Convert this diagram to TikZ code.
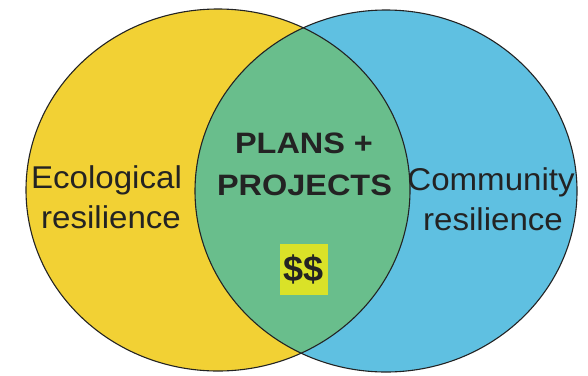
\documentclass[tikz,border=0pt]{standalone}
\usepackage{fontspec}
\setmainfont{Liberation Sans}
\newfontfamily\lbl[FakeStretch=1.05]{Liberation Sans}
\newfontfamily\lblb[FakeStretch=1.1]{Liberation Sans Bold}
\newfontfamily\cashfont{Liberation Sans Bold}
\definecolor{ecoyellow}{RGB}{242,209,52}
\definecolor{comblue}{RGB}{95,192,225}
\definecolor{midgreen}{RGB}{105,190,140}
\definecolor{cashbg}{RGB}{218,226,40}
\definecolor{ink}{RGB}{35,35,35}
\tikzset{
  setlabel/.style={font=\lbl\fontsize{31.5}{36}\selectfont, text=ink, inner sep=0pt, anchor=base},
  midlabel/.style={font=\lblb\fontsize{29.5}{34}\selectfont, text=ink, inner sep=0pt, anchor=base},
  cashbox/.style={fill=cashbg, font=\cashfont\fontsize{36}{40}\selectfont, text=ink, minimum width=48pt, minimum height=51pt, inner sep=0pt},
  outline/.style={draw=ink, line width=1.1pt}
}
\begin{document}
\begin{tikzpicture}[x=1pt,y=-1pt]
\useasboundingbox (0,0) rectangle (588,375);
% fills
\fill[ecoyellow] (218,190) ellipse [x radius=192, y radius=181];
\fill[comblue] (386,191) ellipse [x radius=191, y radius=181];
\begin{scope}
  \clip (218,190) ellipse [x radius=192, y radius=181];
  \fill[midgreen] (386,191) ellipse [x radius=191, y radius=181];
\end{scope}
% outlines
\draw[outline] (218,190) ellipse [x radius=192, y radius=181];
\draw[outline] (386,191) ellipse [x radius=191, y radius=181];
% labels
\node[setlabel] (eco1) at (106.5,188) {Ecological};
\node[setlabel] (eco2) at (111,228) {resilience};
\node[setlabel] (com1) at (491,190) {Community};
\node[setlabel] (com2) at (493,230) {resilience};
\node[midlabel] (mid1) at (304,153) {PLANS +};
\node[midlabel] (mid2) at (304.5,195) {PROJECTS};
\node[cashbox] (cash) at (304,269.5) {\$\$};
\end{tikzpicture}
\end{document}
